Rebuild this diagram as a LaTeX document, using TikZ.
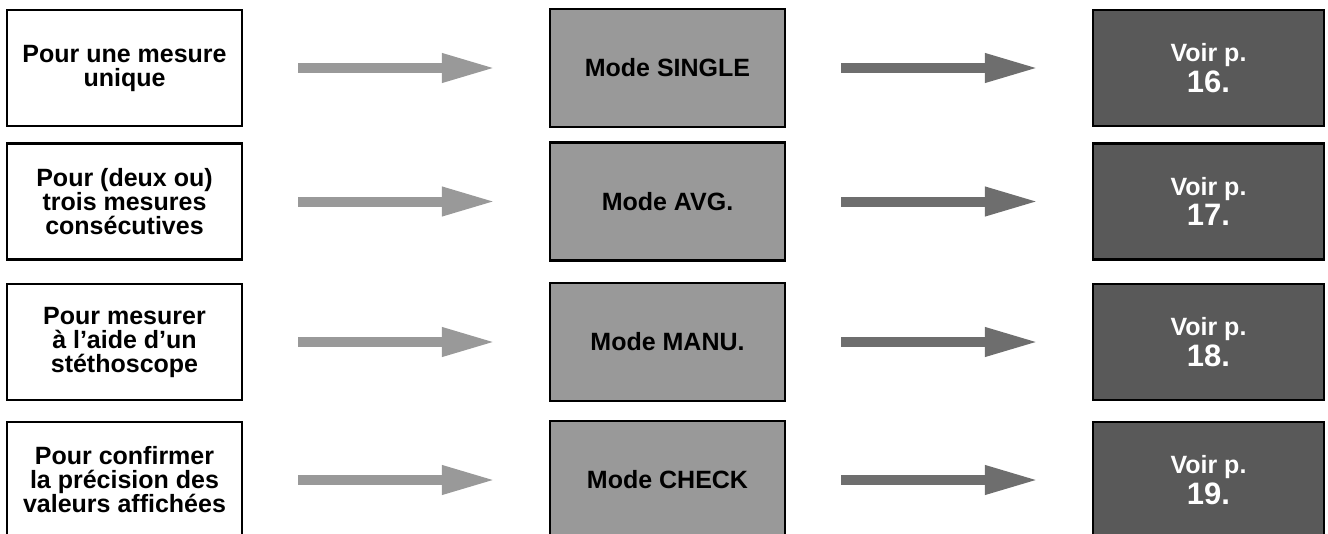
\documentclass[tikz,border=0pt]{standalone}
\usepackage{fontspec}
\setmainfont{Liberation Sans}
\usetikzlibrary{arrows.meta}
\definecolor{modegray}{HTML}{999999}
\definecolor{refgray}{HTML}{595959}
\definecolor{arrowgray}{HTML}{6E6E6E}
\tikzset{
	whystyle/.style={rectangle,draw=black,line width=2.5pt,fill=white,minimum width=235pt,minimum height=116pt,inner sep=0pt,align=center,font=\bfseries\fontsize{25}{24}\selectfont},
	modestyle/.style={whystyle,fill=modegray,minimum height=118pt},
	pagestyle/.style={whystyle,fill=refgray,text=white,minimum width=231pt},
	lightarrow/.style={draw=modegray,line width=10pt,-{Triangle[length=54pt,width=27pt]},shorten <=55pt,shorten >=53pt},
	darkarrow/.style={lightarrow,draw=arrowgray,fill=arrowgray}
}
\newcommand{\pagenum}[1]{\\[3pt]{\fontsize{31}{31}\selectfont #1}}
\begin{document}
\begin{tikzpicture}[x=1pt,y=-1pt]
		\useasboundingbox (0,0) rectangle (1328,533);
		\node[whystyle] (q1) at (124.5,68) {Pour une mesure\\unique};
		\node[whystyle] (q2) at (124.5,201.5) {Pour (deux ou)\\trois mesures\\consécutives};
		\node[whystyle] (q3) at (124.5,342) {Pour mesurer\\à l’aide d’un\\stéthoscope};
		\node[whystyle] (q4) at (124.5,480) {Pour confirmer\\la précision des\\valeurs affichées};
		\node[modestyle] (m1) at (667.5,68) {Mode SINGLE};
		\node[modestyle] (m2) at (667.5,201.5) {Mode AVG.};
		\node[modestyle] (m3) at (667.5,342) {Mode MANU.};
		\node[modestyle] (m4) at (667.5,480) {Mode CHECK};
		\node[pagestyle] (p1) at (1208.5,68) {Voir p.\pagenum{16.}};
		\node[pagestyle] (p2) at (1208.5,201.5) {Voir p.\pagenum{17.}};
		\node[pagestyle] (p3) at (1208.5,342) {Voir p.\pagenum{18.}};
		\node[pagestyle] (p4) at (1208.5,480) {Voir p.\pagenum{19.}};
		\draw[lightarrow] (q1)--(m1);
		\draw[lightarrow] (q2)--(m2);
		\draw[lightarrow] (q3)--(m3);
		\draw[lightarrow] (q4)--(m4);
		\draw[darkarrow] (m1)--(p1);
		\draw[darkarrow] (m2)--(p2);
		\draw[darkarrow] (m3)--(p3);
		\draw[darkarrow] (m4)--(p4);
		\end{tikzpicture}
\end{document}
